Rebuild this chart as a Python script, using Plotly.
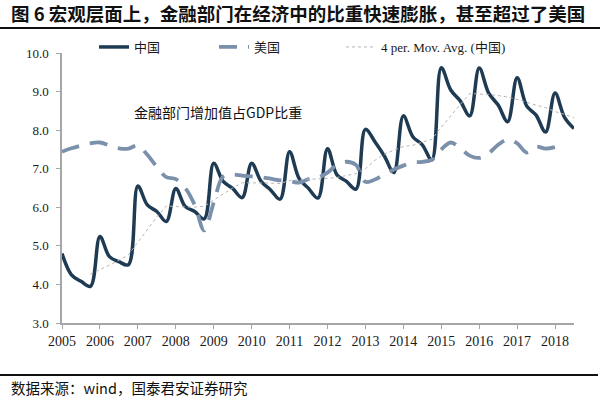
import plotly.graph_objects as go
import pandas as pd

# ---- data (quarterly, % of GDP) ----
years = list(range(2005, 2019))
tick_labels = [str(y) for y in years]

china_quarters = [f"{y}Q{q}" for y in range(2005, 2019) for q in range(1, 5)][:55]   # 2005Q1 - 2018Q3
china = [4.80, 4.25, 4.08, 3.95,
         5.24, 4.72, 4.59, 4.51,
         6.55, 6.06, 5.89, 5.63,
         6.49, 6.02, 5.89, 5.70,
         7.14, 6.67, 6.49, 6.25,
         7.14, 6.67, 6.45, 6.21,
         7.44, 6.75, 6.49, 6.24,
         7.52, 6.84, 6.67, 6.47,
         8.02, 7.70, 7.33, 6.90,
         8.37, 7.83, 7.62, 7.23,
         9.62, 9.04, 8.76, 8.37,
         9.61, 8.96, 8.65, 8.22,
         9.36, 8.63, 8.39, 7.95,
         8.96, 8.33, 8.04]

us_quarters = china_quarters[:53]   # 2005Q1 - 2018Q1
us = [7.44, 7.53, 7.60, 7.66,
      7.68, 7.60, 7.53, 7.52,
      7.60, 7.36, 7.05, 6.78,
      6.73, 6.50, 6.06, 5.40,
      6.12, 6.80, 6.85, 6.82,
      6.80, 6.78, 6.74, 6.70,
      6.68, 6.64, 6.73, 6.77,
      6.90, 7.10, 7.18, 7.10,
      6.66, 6.72, 6.85, 6.98,
      7.08, 7.16, 7.18, 7.23,
      7.50, 7.68, 7.53, 7.34,
      7.28, 7.40, 7.62, 7.76,
      7.66, 7.42, 7.57, 7.52,
      7.56]


def qpos(label):
    y, q = label.split("Q")
    return int(y) + (int(q) - 1) / 4.0


x_china = [qpos(s) for s in china_quarters]
x_us = [qpos(s) for s in us_quarters]
china_ma = pd.Series(china).rolling(4).mean().tolist()

# ---- layout geometry ----
W, H = 600, 399
ML, MR, MT, MB = 62, 26, 53, 76
PW, PH = W - ML - MR, H - MT - MB


def px(xp):
    return (xp - ML) / PW


def py(yp):
    return (H - MB - yp) / PH


CN = "Noto Sans CJK SC"
SERIF = "Liberation Serif"

fig = go.Figure()
fig.add_trace(go.Scatter(
    x=x_china, y=china, name="中国", mode="lines", legendwidth=75,
    line=dict(color="#1e3b53", width=3.5, shape="spline", smoothing=1.0),
))
fig.add_trace(go.Scatter(
    x=x_us, y=us, name="美国", mode="lines", legendwidth=82,
    line=dict(color="#7a90ab", width=3.8, shape="spline", smoothing=1.0, dash="18px,11px"),
))
fig.add_trace(go.Scatter(
    x=x_china, y=china_ma, name="4 per. Mov. Avg. (中国)", mode="lines", legendwidth=170,
    line=dict(color="#b5b5b5", width=1, dash="dot"),
))

fig.update_layout(
    width=W, height=H,
    margin=dict(l=ML, r=MR, t=MT, b=MB),
    paper_bgcolor="white", plot_bgcolor="white",
    font=dict(family=SERIF + ", " + CN, size=13, color="#1a1a1a"),
    showlegend=True,
    legend=dict(
        orientation="h", x=px(94), xanchor="left", y=py(47), yanchor="middle",
        font=dict(family=SERIF + ", " + CN, size=13, color="#1a1a1a"),
        bgcolor="rgba(0,0,0,0)", borderwidth=0,
    ),
    xaxis=dict(
        range=[2005, 2018.5], tickmode="array",
        tickvals=years, ticktext=tick_labels,
        showline=True, linecolor="#a6a6a6", linewidth=1.5,
        ticks="outside", ticklen=4, tickcolor="#a6a6a6",
        showgrid=False, zeroline=False,
        tickfont=dict(family=SERIF, size=14, color="#1a1a1a"),
    ),
    yaxis=dict(
        range=[3, 10], dtick=1, tick0=3, tickformat=".1f",
        showline=True, linecolor="#a6a6a6", linewidth=1.5,
        ticks="outside", ticklen=4, tickcolor="#a6a6a6",
        ticklabelstandoff=5,
        showgrid=False, zeroline=False,
        tickfont=dict(family=SERIF, size=13, color="#1a1a1a"),
    ),
    shapes=[
        dict(type="line", xref="paper", yref="paper",
             x0=px(0), x1=px(600), y0=py(28), y1=py(28),
             line=dict(color="#111111", width=2)),
        dict(type="line", xref="paper", yref="paper",
             x0=px(0), x1=px(598), y0=py(375), y1=py(375),
             line=dict(color="#111111", width=2)),
    ],
    annotations=[
        dict(text="<b>图 6 宏观层面上，金融部门在经济中的比重快速膨胀，甚至超过了美国</b>",
             xref="paper", yref="paper", x=px(9), y=py(13),
             xanchor="left", yanchor="middle", showarrow=False,
             font=dict(family=CN, size=18.5, color="#111111")),
        dict(text="数据来源：wind，国泰君安证券研究",
             xref="paper", yref="paper", x=px(9), y=py(387),
             xanchor="left", yanchor="middle", showarrow=False,
             font=dict(family=CN, size=14.5, color="#111111")),
        dict(text="金融部门增加值占GDP比重",
             xref="paper", yref="paper", x=px(218), y=py(112),
             xanchor="center", yanchor="middle", showarrow=False,
             font=dict(family=CN, size=14, color="#111111")),
    ],
)

fig.write_html("out.html", config={"displayModeBar": False},
               post_script="document.body.style.margin='0';document.body.style.padding='0';")
